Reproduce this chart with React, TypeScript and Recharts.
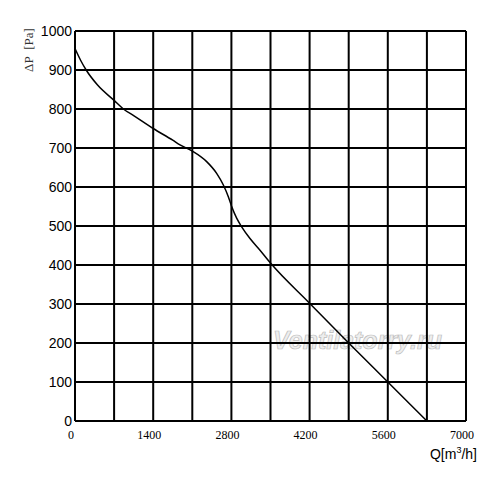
import { LineChart, Line, CartesianGrid, XAxis, YAxis } from "recharts";

// airflow Q [m3/h] and static pressure dP [Pa]
const flow = [
  0, 100, 200, 400, 700, 866, 1050, 1400, 1750, 1880, 2100, 2357, 2536, 2656,
  2745, 2805, 2894, 2984, 3133, 3312, 3500, 4200, 4900, 5600, 6300,
];
const pressure = [
  955, 925, 900, 862, 822, 800, 783, 750, 720, 708, 692, 665, 635, 605, 575,
  550, 520, 498, 468, 438, 405, 302, 200, 100, 0,
];

const xTicks = [0, 700, 1400, 2100, 2800, 3500, 4200, 4900, 5600, 6300, 7000];
const yTicks = [0, 100, 200, 300, 400, 500, 600, 700, 800, 900, 1000];

const data = flow.map((q, i) => ({ q, p: pressure[i] }));

export default function App() {
  return (
    <div style={{ position: "relative", width: 492, height: 476 }}>
      <div
        style={{
          position: "absolute",
          left: 265,
          top: 318,
          fontFamily: "Liberation Sans",
          fontStyle: "italic",
          fontWeight: "bold",
          fontSize: 25,
          color: "#eeeeee",
          WebkitTextStroke: "0.7px #bdbdbd",
        }}
      >
        Ventilatorry.ru
      </div>

      <div style={{ position: "relative" }}>
        <LineChart
          width={492}
          height={476}
          data={data}
          margin={{ top: 23, right: 34, bottom: 33, left: 7 }}
        >
          <CartesianGrid stroke="#000" strokeWidth={2} />

          <XAxis
            dataKey="q"
            type="number"
            domain={[0, 7000]}
            ticks={xTicks}
            interval={0}
            height={30}
            axisLine={false}
            tickLine={false}
            tickSize={0}
            tickMargin={9}
            tickFormatter={(v: number) => (v % 1400 === 0 ? String(v) : "")}
            tick={{
              fill: "#000",
              fontSize: 12,
              fontFamily: "Liberation Serif",
              dx: -4,
            }}
          />

          <YAxis
            type="number"
            domain={[0, 1000]}
            ticks={yTicks}
            interval={0}
            width={60}
            axisLine={false}
            tickLine={false}
            tickSize={0}
            tickMargin={3}
            tick={{ fill: "#000", fontSize: 14, fontFamily: "Liberation Sans" }}
          />

          <Line
            dataKey="p"
            type="monotone"
            stroke="#000"
            strokeWidth={1.5}
            dot={false}
            isAnimationActive={false}
          />
        </LineChart>
      </div>

      <div
        style={{
          position: "absolute",
          left: 21,
          top: 42,
          transform: "translate(-50%, -50%) rotate(-90deg)",
          whiteSpace: "nowrap",
          fontFamily: "Liberation Serif",
          fontSize: 13,
          color: "#333",
        }}
      >
        ΔP&nbsp;&nbsp;[Pa]
      </div>

      <div
        style={{
          position: "absolute",
          right: 492 - 469,
          top: 437,
          fontFamily: "Liberation Sans",
          fontSize: 14,
          color: "#000",
        }}
      >
        Q[m<sup style={{ fontSize: 9 }}>3</sup>/h]
      </div>
    </div>
  );
}
